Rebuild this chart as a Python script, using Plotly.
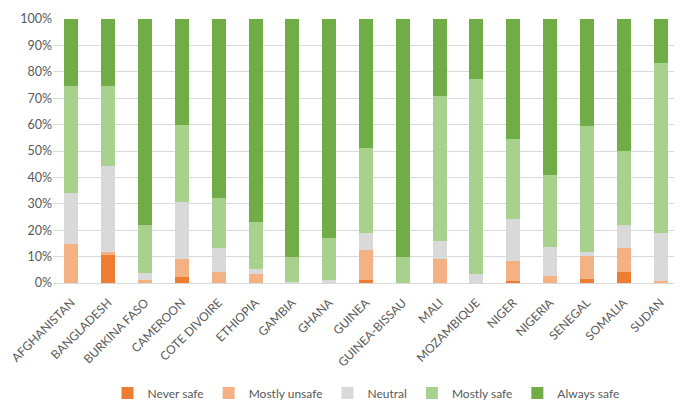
import plotly.graph_objects as go

countries = ["AFGHANISTAN", "BANGLADESH", "BURKINA FASO", "CAMEROON", "COTE DIVOIRE",
             "ETHIOPIA", "GAMBIA", "GHANA", "GUINEA", "GUINEA-BISSAU", "MALI",
             "MOZAMBIQUE", "NIGER", "NIGERIA", "SENEGAL", "SOMALIA", "SUDAN"]

never_safe    = [0.0, 10.5, 0.0, 2.1, 0.0, 0.0, 0.0, 0.0, 1.3, 0.0, 0.0, 0.0, 0.6, 0.0, 1.6, 4.3, 0.0]
mostly_unsafe = [14.6, 1.1, 1.3, 7.1, 4.0, 3.4, 0.0, 0.0, 11.3, 0.0, 9.2, 0.0, 7.8, 2.8, 8.7, 8.8, 0.9]
neutral       = [19.5, 32.7, 2.6, 21.5, 9.4, 2.0, 0.4, 1.0, 6.2, 0.0, 6.8, 3.3, 15.9, 10.9, 1.5, 8.9, 18.1]
mostly_safe   = [40.5, 30.3, 18.1, 29.1, 18.8, 17.8, 9.5, 15.9, 32.2, 9.9, 54.9, 73.9, 30.1, 27.2, 47.5, 27.9, 64.2]
always_safe   = [25.4, 25.4, 78.0, 40.2, 67.8, 76.8, 90.1, 83.1, 49.0, 90.1, 29.1, 22.8, 45.6, 59.1, 40.7, 50.1, 16.8]

y_ticks = [0, 10, 20, 30, 40, 50, 60, 70, 80, 90, 100]
y_tick_labels = [f"{v}%" for v in y_ticks]

series = [
    ("Never safe", never_safe, "#ED7D31"),
    ("Mostly unsafe", mostly_unsafe, "#F4B183"),
    ("Neutral", neutral, "#D9D9D9"),
    ("Mostly safe", mostly_safe, "#A9D18E"),
    ("Always safe", always_safe, "#70AD47"),
]

fig = go.Figure()
for name, vals, color in series:
    fig.add_trace(go.Bar(x=countries, y=vals, name=name,
                         marker=dict(color=color, line=dict(width=0))))

font_family = "Lato, 'Open Sans', sans-serif"
# page body has an 8px margin, so the figure is offset by 8px in the window
fig.update_layout(
    barmode="stack",
    bargap=0.62,
    width=674, height=401,
    margin=dict(l=45, r=3, t=11, b=125),
    paper_bgcolor="white", plot_bgcolor="white",
    font=dict(family=font_family, size=12, color="#595959"),
    showlegend=True,
    legend=dict(orientation="h", x=0.5, xanchor="center", y=-0.411, yanchor="middle",
                font=dict(size=12, color="#595959"), traceorder="normal",
                itemwidth=30, tracegroupgap=0),
    xaxis=dict(tickangle=-45, tickfont=dict(size=12, color="#595959"),
               showgrid=False, showline=True, linecolor="#D9D9D9", ticks="",
               ticklabelstandoff=7, automargin=False),
    yaxis=dict(range=[0, 100], tickvals=y_ticks, ticktext=y_tick_labels,
               showgrid=True, gridcolor="#D9D9D9", gridwidth=1, zeroline=False,
               tickfont=dict(size=12.5, color="#595959"), ticks="", automargin=False),
)

fig.write_html("out.html")
